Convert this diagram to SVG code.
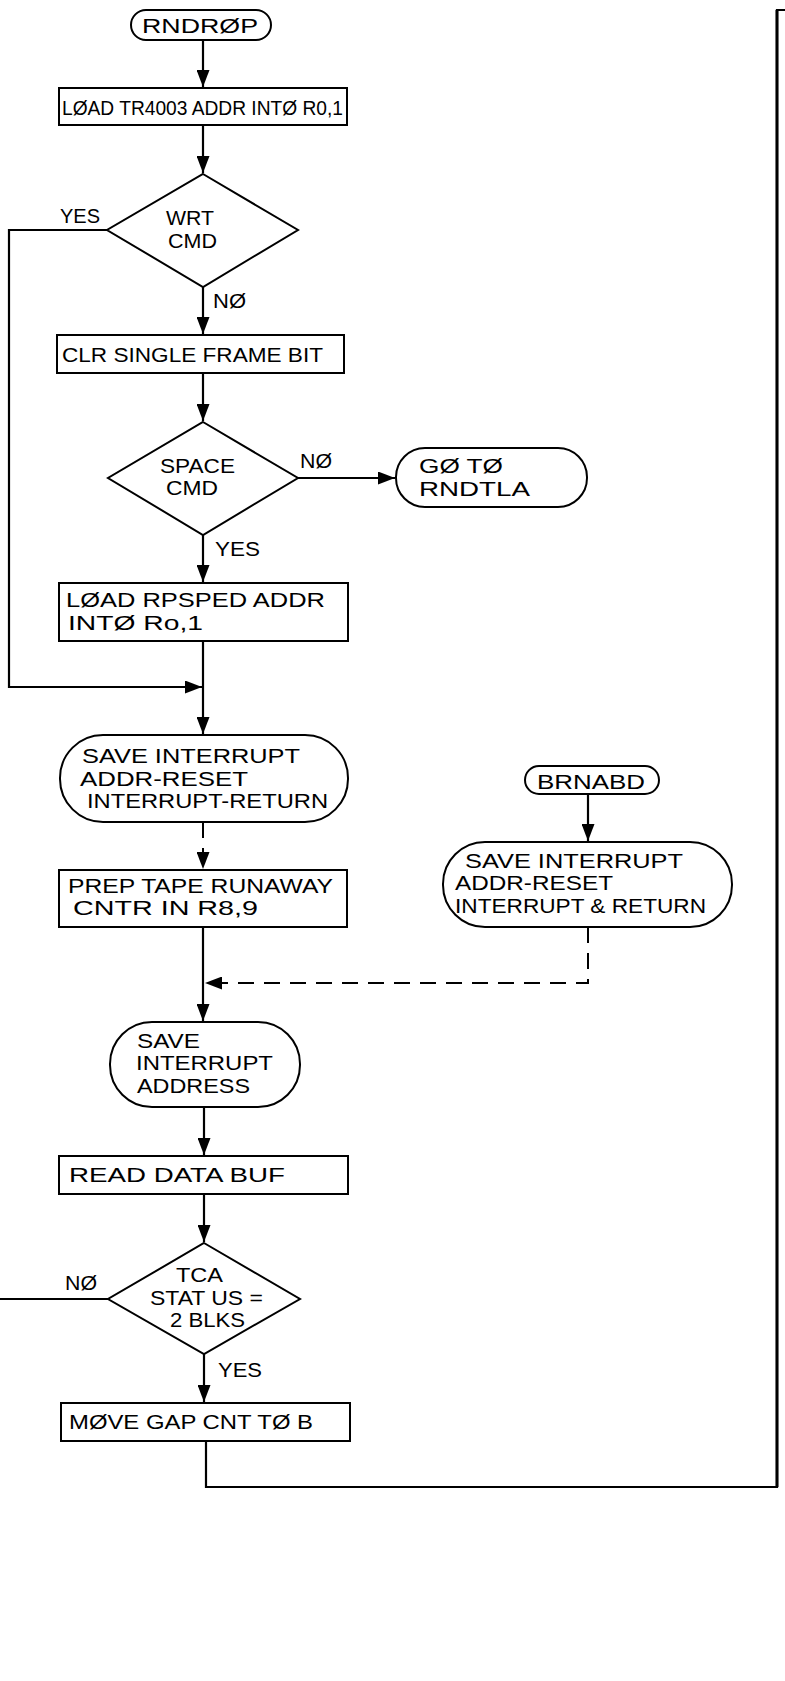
<svg xmlns="http://www.w3.org/2000/svg" width="785" height="1681" viewBox="0 0 785 1681">
<style>
.shape{fill:#fff;stroke:#000;stroke-width:2}
.t{font-family:"Liberation Sans",Arial,sans-serif;font-size:21px;fill:#000}
.lb{font-family:"Liberation Sans",Arial,sans-serif;font-size:20px;fill:#000}
.ln{fill:none;stroke:#000;stroke-width:2.2}
.dash{fill:none;stroke:#000;stroke-width:2;stroke-dasharray:16,10}
</style>
<defs>
<marker id="ah" markerUnits="userSpaceOnUse" markerWidth="18" markerHeight="13" refX="17" refY="6.5" orient="auto">
<path d="M0,0 L17,6.5 L0,13 z" fill="#000"/>
</marker>
</defs>
<rect width="785" height="1681" fill="#fff"/>
<g id="connectors">
<line class="ln" x1="203" y1="40" x2="203" y2="87" marker-end="url(#ah)"/>
<line class="ln" x1="203" y1="125" x2="203" y2="173" marker-end="url(#ah)"/>
<line class="ln" x1="203" y1="287" x2="203" y2="334" marker-end="url(#ah)"/>
<polyline class="ln" points="107,230 9,230 9,687 202,687" marker-end="url(#ah)"/>
<line class="ln" x1="203" y1="373" x2="203" y2="421" marker-end="url(#ah)"/>
<line class="ln" x1="298" y1="478" x2="395" y2="478" marker-end="url(#ah)"/>
<line class="ln" x1="203" y1="535" x2="203" y2="582" marker-end="url(#ah)"/>
<line class="ln" x1="203" y1="641" x2="203" y2="734" marker-end="url(#ah)"/>
<line class="dash" x1="203" y1="822" x2="203" y2="869" stroke-dasharray="12,10" marker-end="url(#ah)"/>
<line class="ln" x1="203" y1="927" x2="203" y2="1021" marker-end="url(#ah)"/>
<line class="ln" x1="588" y1="794" x2="588" y2="841" marker-end="url(#ah)"/>
<polyline class="dash" points="588,927 588,983 205,983" marker-end="url(#ah)"/>
<line class="ln" x1="204" y1="1107" x2="204" y2="1155" marker-end="url(#ah)"/>
<line class="ln" x1="204" y1="1194" x2="204" y2="1242" marker-end="url(#ah)"/>
<line class="ln" x1="108" y1="1299" x2="0" y2="1299"/>
<line class="ln" x1="204" y1="1354" x2="204" y2="1402" marker-end="url(#ah)"/>
<polyline class="ln" points="206,1441 206,1487 777,1487 777,10 785,10"/>
<line x1="777" y1="10" x2="777" y2="1487" stroke="#000" stroke-width="3"/>
<text class="lb" x="60" y="223" textLength="40" lengthAdjust="spacingAndGlyphs">YES</text>
<text class="lb" x="213" y="308" textLength="33" lengthAdjust="spacingAndGlyphs">NØ</text>
<text class="lb" x="300" y="468" textLength="32" lengthAdjust="spacingAndGlyphs">NØ</text>
<text class="lb" x="215" y="556" textLength="45" lengthAdjust="spacingAndGlyphs">YES</text>
<text class="lb" x="65" y="1290" textLength="32" lengthAdjust="spacingAndGlyphs">NØ</text>
<text class="lb" x="218" y="1377" textLength="44" lengthAdjust="spacingAndGlyphs">YES</text>
</g>
<g id="rndrop">
<rect class="shape" x="131" y="10" width="140" height="30" rx="15"/>
<text class="t" x="142" y="33" font-size="22" textLength="116" lengthAdjust="spacingAndGlyphs">RNDRØP</text>
</g>
<g id="load-tr4003">
<rect class="shape" x="59" y="88" width="288" height="37"/>
<text class="t" x="62" y="115" textLength="281" lengthAdjust="spacingAndGlyphs">LØAD TR4003 ADDR INTØ R0,1</text>
</g>
<g id="wrt-cmd">
<polygon class="shape" points="203,174 298,230 203,287 107,230"/>
<text class="t" x="166" y="225" textLength="48" lengthAdjust="spacingAndGlyphs">WRT</text>
<text class="t" x="168" y="248" textLength="49" lengthAdjust="spacingAndGlyphs">CMD</text>
</g>
<g id="clr-single-frame">
<rect class="shape" x="57" y="335" width="287" height="38"/>
<text class="t" x="62" y="362" textLength="261" lengthAdjust="spacingAndGlyphs">CLR SINGLE FRAME BIT</text>
</g>
<g id="space-cmd">
<polygon class="shape" points="203,422 298,478 203,535 108,478"/>
<text class="t" x="160" y="473" textLength="75" lengthAdjust="spacingAndGlyphs">SPACE</text>
<text class="t" x="166" y="495" textLength="52" lengthAdjust="spacingAndGlyphs">CMD</text>
</g>
<g id="go-to-rndtla">
<rect class="shape" x="396" y="448" width="191" height="59" rx="29"/>
<text class="t" x="419" y="473" textLength="84" lengthAdjust="spacingAndGlyphs">GØ TØ</text>
<text class="t" x="419" y="496" textLength="111" lengthAdjust="spacingAndGlyphs">RNDTLA</text>
</g>
<g id="load-rpsped">
<rect class="shape" x="59" y="583" width="289" height="58"/>
<text class="t" x="66" y="607" textLength="259" lengthAdjust="spacingAndGlyphs">LØAD RPSPED ADDR</text>
<text class="t" x="68" y="630" textLength="135" lengthAdjust="spacingAndGlyphs">INTØ Ro,1</text>
</g>
<g id="save-interrupt-return">
<rect class="shape" x="60" y="735" width="288" height="87" rx="43"/>
<text class="t" x="82" y="763" textLength="218" lengthAdjust="spacingAndGlyphs">SAVE INTERRUPT</text>
<text class="t" x="80" y="786" textLength="168" lengthAdjust="spacingAndGlyphs">ADDR-RESET</text>
<text class="t" x="87" y="808" textLength="241" lengthAdjust="spacingAndGlyphs">INTERRUPT-RETURN</text>
</g>
<g id="prep-tape-runaway">
<rect class="shape" x="59" y="870" width="288" height="57"/>
<text class="t" x="68" y="893" textLength="265" lengthAdjust="spacingAndGlyphs">PREP TAPE RUNAWAY</text>
<text class="t" x="73" y="915" textLength="185" lengthAdjust="spacingAndGlyphs">CNTR IN R8,9</text>
</g>
<g id="brnabd">
<rect class="shape" x="525" y="766" width="134" height="28" rx="14"/>
<text class="t" x="537" y="789" textLength="108" lengthAdjust="spacingAndGlyphs">BRNABD</text>
</g>
<g id="save-interrupt-and-return">
<rect class="shape" x="443" y="842" width="289" height="85" rx="42"/>
<text class="t" x="465" y="868" textLength="218" lengthAdjust="spacingAndGlyphs">SAVE INTERRUPT</text>
<text class="t" x="455" y="890" textLength="158" lengthAdjust="spacingAndGlyphs">ADDR-RESET</text>
<text class="t" x="455" y="913" textLength="251" lengthAdjust="spacingAndGlyphs">INTERRUPT &amp; RETURN</text>
</g>
<g id="save-interrupt-address">
<rect class="shape" x="110" y="1022" width="190" height="85" rx="42"/>
<text class="t" x="137" y="1048" textLength="63" lengthAdjust="spacingAndGlyphs">SAVE</text>
<text class="t" x="136" y="1070" textLength="137" lengthAdjust="spacingAndGlyphs">INTERRUPT</text>
<text class="t" x="137" y="1093" textLength="113" lengthAdjust="spacingAndGlyphs">ADDRESS</text>
</g>
<g id="read-data-buf">
<rect class="shape" x="59" y="1156" width="289" height="38"/>
<text class="t" x="69" y="1182" textLength="216" lengthAdjust="spacingAndGlyphs">READ  DATA BUF</text>
</g>
<g id="tca-status">
<polygon class="shape" points="204,1243 300,1299 204,1354 108,1299"/>
<text class="t" x="176" y="1282" textLength="47" lengthAdjust="spacingAndGlyphs">TCA</text>
<text class="t" x="150" y="1305" textLength="113" lengthAdjust="spacingAndGlyphs">STAT US =</text>
<text class="t" x="170" y="1327" textLength="75" lengthAdjust="spacingAndGlyphs">2 BLKS</text>
</g>
<g id="move-gap-cnt">
<rect class="shape" x="61" y="1403" width="289" height="38"/>
<text class="t" x="69" y="1429" textLength="244" lengthAdjust="spacingAndGlyphs">MØVE GAP CNT TØ B</text>
</g>
</svg>
